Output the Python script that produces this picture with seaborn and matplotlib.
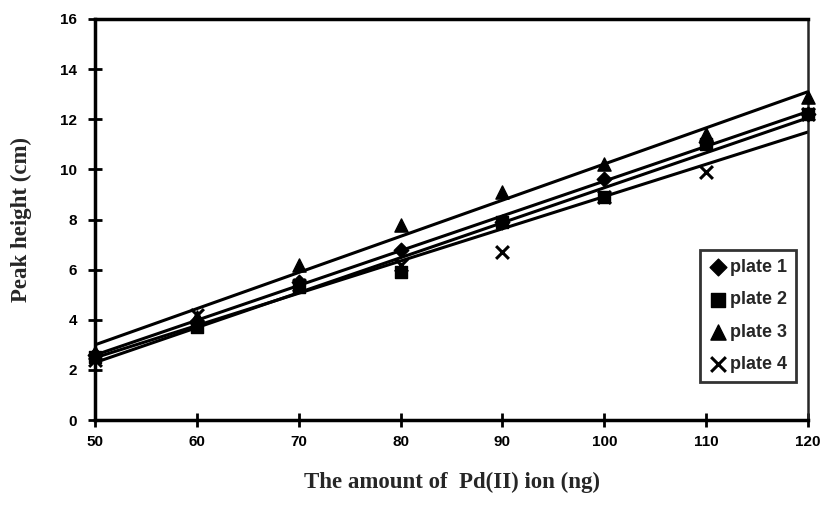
import matplotlib
matplotlib.use("Agg")
import matplotlib.pyplot as plt
import seaborn as sns
import pandas as pd

amount_ng = [50, 60, 70, 80, 90, 100, 110, 120]
plate1 = [2.6, 3.9, 5.5, 6.8, 7.9, 9.6, 11.1, 12.2]
plate2 = [2.5, 3.7, 5.3, 5.9, 7.9, 8.9, 11.0, 12.2]
plate3 = [2.7, 4.1, 6.2, 7.8, 9.1, 10.2, 11.4, 12.9]
plate4 = [2.4, 4.2, 5.4, 6.2, 6.7, 8.9, 9.9, 12.2]
series_names = ["plate 1", "plate 2", "plate 3", "plate 4"]
xticks = [50, 60, 70, 80, 90, 100, 110, 120]
yticks = [0, 2, 4, 6, 8, 10, 12, 14, 16]

sns.set_theme(style="ticks")
plt.rcParams["font.family"] = ["Liberation Sans", "DejaVu Sans"]

rows = []
for name, vals in zip(series_names, [plate1, plate2, plate3, plate4]):
    for x, y in zip(amount_ng, vals):
        rows.append({"amount": x, "height": y, "plate": name})
df = pd.DataFrame(rows)

fig = plt.figure(figsize=(8.29, 5.08), dpi=100)
ax = fig.add_axes([0.1146, 0.1732, 0.8601, 0.7894])
ax.set_xlim(50, 120)
ax.set_ylim(0, 16)

markers = {"plate 1": "D", "plate 2": "s", "plate 3": "^", "plate 4": "x"}
msizes = {"plate 1": 55, "plate 2": 70, "plate 3": 90, "plate 4": 85}
for name in series_names:
    sub = df[df["plate"] == name]
    sns.regplot(data=sub, x="amount", y="height", ax=ax, ci=None, scatter=False,
                truncate=False, line_kws={"color": "black", "lw": 2.2})
for name in series_names:
    sub = df[df["plate"] == name]
    if name == "plate 4":
        ax.scatter(sub["amount"], sub["height"], marker="x", s=msizes[name], color="black",
                   linewidths=2.2, zorder=5, clip_on=False, label=name)
    else:
        ax.scatter(sub["amount"], sub["height"], marker=markers[name], s=msizes[name],
                   color="black", zorder=5, clip_on=False, label=name)

ax.set_xticks(xticks)
ax.set_yticks(yticks)
ax.set_xticklabels([str(t) for t in xticks], fontsize=11, fontweight="bold")
ax.set_yticklabels([str(t) for t in yticks], fontsize=11, fontweight="bold")
ax.tick_params(direction="inout", length=10, width=2, pad=8, colors="black")
ax.tick_params(axis="x", pad=6)
for s in ["left", "bottom", "top"]:
    ax.spines[s].set_linewidth(2.5)
    ax.spines[s].set_color("black")
ax.spines["right"].set_linewidth(1.8)
ax.spines["right"].set_visible(True)
ax.spines["top"].set_visible(True)

ax.set_xlabel("The amount of  Pd(II) ion (ng)", fontsize=16.5, fontweight="bold",
              family=["Liberation Serif", "DejaVu Serif"], labelpad=16)
ax.set_ylabel("Peak height (cm)", fontsize=16.5, fontweight="bold",
              family=["Liberation Serif", "DejaVu Serif"], labelpad=20)

leg = ax.legend(loc="lower right", bbox_to_anchor=(0.996, 0.072), frameon=True,
                fancybox=False, edgecolor="black", handletextpad=0.15,
                handlelength=1.0, borderpad=0.5, labelspacing=0.85,
                markerscale=1.15, prop={"weight": "bold", "size": 13})
leg.get_frame().set_linewidth(2)

fig.savefig("out.png", dpi=100, facecolor="white")
